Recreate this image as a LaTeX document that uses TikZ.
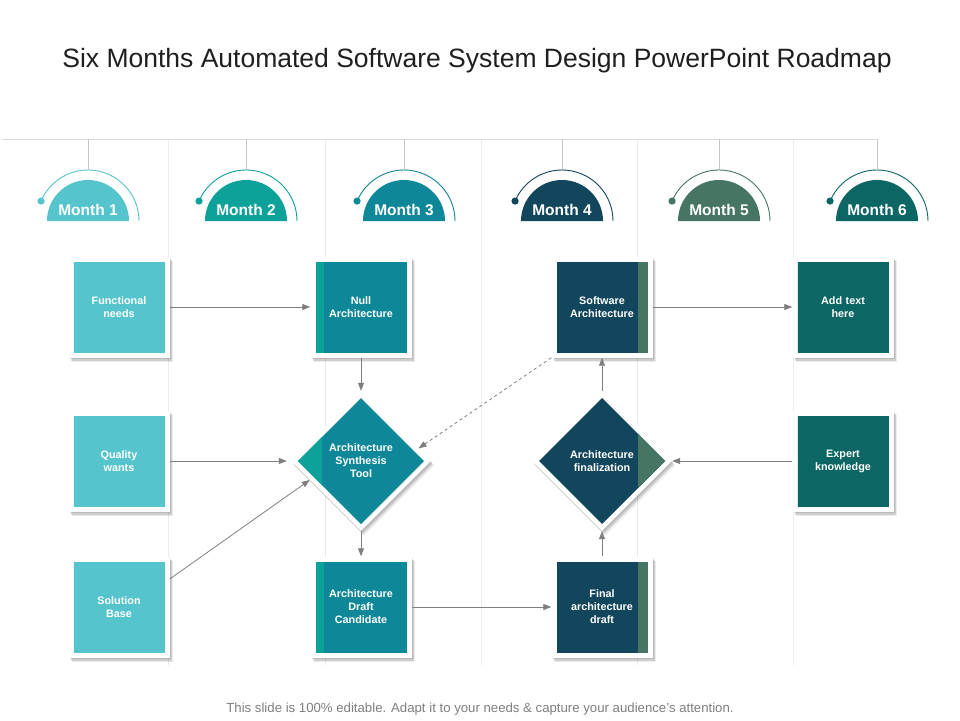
\documentclass[tikz,border=0pt]{standalone}
\usepackage{fontspec}
\setmainfont{Liberation Sans}
\usetikzlibrary{shapes.geometric,arrows.meta,shadows,calc}
\definecolor{cA}{HTML}{55C4CC}
\definecolor{cB}{HTML}{0CA29A}
\definecolor{cC}{HTML}{0E8898}
\definecolor{cD}{HTML}{12465C}
\definecolor{cE}{HTML}{467563}
\definecolor{cF}{HTML}{0B6664}
\definecolor{linegray}{HTML}{D9D9D9}
\definecolor{divgray}{HTML}{EBEBEB}
\definecolor{arrgray}{HTML}{7F7F7F}
\definecolor{titlecol}{HTML}{1F1F1F}
\begin{document}
\begin{tikzpicture}[x=1pt,y=-1pt,
  shad/.style={drop shadow={shadow xshift=1pt, shadow yshift=-1.5pt, fill=black, opacity=0.10},
               drop shadow={shadow xshift=2pt, shadow yshift=-3pt, fill=black, opacity=0.12},
               drop shadow={shadow xshift=3pt, shadow yshift=-4.5pt, fill=black, opacity=0.08}},
  sq/.style={minimum width=101pt, minimum height=101pt, inner sep=0pt, fill=white, shad,
    text=white, font=\bfseries\fontsize{10.8}{13}\selectfont, align=center, text width=84pt},
  sqc/.style n args={4}{path picture={
    \fill[#1] ([shift={(5pt,-5pt)}]path picture bounding box.north west) rectangle ([shift={(-5pt,5pt)}]path picture bounding box.south east);
    \fill[#2] ([shift={(#3,-5pt)}]path picture bounding box.north west) rectangle ([shift={(#4,5pt)}]path picture bounding box.south west);
  }},
  dia/.style={diamond, aspect=1, minimum width=140pt, minimum height=140pt, inner sep=0pt, fill=white, shad,
    text=white, font=\bfseries\fontsize{10.8}{13}\selectfont, align=center},
  diac/.style n args={4}{path picture={
    \begin{scope}
    \clip (path picture bounding box.center) ++(-63pt,0pt) -- ++(63pt,63pt) -- ++(63pt,-63pt) -- ++(-63pt,-63pt) -- cycle;
    \fill[#1] ([shift={(-80pt,-80pt)}]path picture bounding box.center) rectangle ([shift={(80pt,80pt)}]path picture bounding box.center);
    \fill[#2] ([shift={(#3,-80pt)}]path picture bounding box.center) rectangle ([shift={(#4,80pt)}]path picture bounding box.center);
    \end{scope}
  }},
  arr/.style={draw=arrgray, line width=0.8pt, -{Triangle[length=8pt,width=6pt]}},
  divider/.style={draw=divgray, line width=0.8pt},
  monthtxt/.style={text=white, font=\bfseries\fontsize{15.5}{18}\selectfont, inner sep=0pt}
]
\useasboundingbox (0,0) rectangle (960,720);
\fill[white] (0,0) rectangle (960,720);

% title
\node[text=titlecol, font=\fontsize{26.5}{30}\selectfont] (title) at (477,61) {Six Months Automated Software System Design PowerPoint Roadmap};

% grid lines
\foreach \x in {168,325,481,637,793} \draw[divider] (\x,139) -- (\x,665);
\draw[draw=linegray, line width=0.9pt] (2,139) -- (877,139);

% month headers
\foreach \cx/\col/\k in {88/cA/1, 246/cB/2, 404/cC/3, 562/cD/4, 719/cE/5, 877/cF/6}{
  \draw[draw=linegray!80!gray, line width=0.8pt] (\cx,139) -- (\cx,170);
  \fill[\col] (\cx,221) ++(-41pt,0pt) arc[start angle=180, end angle=0, radius=41pt] -- cycle;
  \draw[\col, line width=0.9pt] (\cx,221) ++(157:51pt) arc[start angle=157, end angle=0, radius=51pt];
  \fill[\col] (\cx,221) ++(157:51pt) circle[radius=3.6pt];
  \node[monthtxt] (m\k) at (\cx,210) {Month \k};
}

% boxes
\node[sq, sqc={cA}{cA}{5pt}{5pt}] (fn) at (119,307) {Functional\\needs};
\node[sq, sqc={cA}{cA}{5pt}{5pt}] (qw) at (119,461) {Quality\\wants};
\node[sq, sqc={cA}{cA}{5pt}{5pt}] (sb) at (119,607) {Solution\\Base};
\node[sq, sqc={cC}{cB}{5pt}{13pt}] (na) at (361,307) {Null\\Architecture};
\node[sq, sqc={cC}{cB}{5pt}{13pt}] (adc) at (361,607) {Architecture\\Draft\\Candidate};
\node[sq, sqc={cD}{cE}{86pt}{96pt}] (sa) at (602,307) {Software\\Architecture};
\node[sq, sqc={cD}{cE}{86pt}{96pt}] (fad) at (602,607) {Final\\architecture\\draft};
\node[sq, sqc={cF}{cF}{5pt}{5pt}] (ath) at (843,307) {Add text\\here};
\node[sq, sqc={cF}{cF}{5pt}{5pt}] (ek) at (843,461) {Expert\\knowledge};

% diamonds
\node[dia, diac={cC}{cB}{-80pt}{-39pt}] (ast) at (361,461) {Architecture\\Synthesis\\Tool};
\node[dia, diac={cD}{cE}{36pt}{80pt}] (afin) at (602,461) {Architecture\\finalization};

% connectors
\draw[arr] (fn.east) -- (na.west);
\draw[arr] (na.south) -- (ast.north);
\draw[arr] (qw.east) -- ([xshift=-4pt]ast.west);
\draw[arr] ([yshift=28pt]sb.east) -- ($(ast.west)!0.27!(ast.south)$);
\draw[arr] (ast.south) -- (adc.north);
\draw[arr] (adc.east) -- (fad.west);
\draw[arr] (fad.north) -- (afin.south);
\draw[arr] (afin.north) -- (sa.south);
\draw[arr] (sa.east) -- (ath.west);
\draw[arr] (ek.west) -- (afin.east);
\draw[arr, dashed] (sa.south west) -- ($(ast.north)!0.82!(ast.east)$);

% footer
\node[text=arrgray, font=\fontsize{13.2}{15}\selectfont] (foot) at (480,709) {This slide is 100\% editable. Adapt it to your needs \& capture your audience’s attention.};
\end{tikzpicture}
\end{document}
